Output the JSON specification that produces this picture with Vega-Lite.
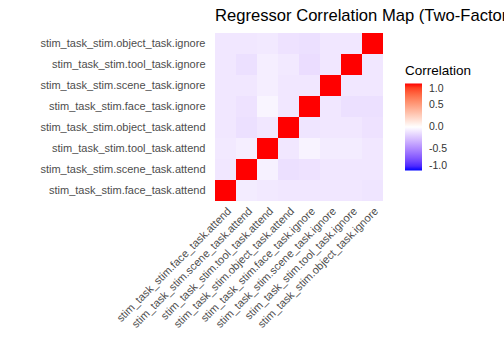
{
  "$schema": "https://vega.github.io/schema/vega-lite/v6.json",
  "autosize": {"type": "none"},
  "padding": {"left": 215, "top": 33, "right": 121, "bottom": 159},
  "width": 168,
  "height": 168,
  "background": "white",
  "title": {"text": "Regressor Correlation Map (Two-Factor Design)", "anchor": "start", "frame": "group", "font": "Liberation Sans", "fontSize": 16.6, "fontWeight": "normal", "color": "black", "offset": 8},
  "config": {"view": {"stroke": null}},
  "datasets": {
    "corr": [
      {"row": "stim_task_stim.object_task.ignore", "col": "stim_task_stim.face_task.attend", "r": -0.1},
      {"row": "stim_task_stim.object_task.ignore", "col": "stim_task_stim.scene_task.attend", "r": -0.1},
      {"row": "stim_task_stim.object_task.ignore", "col": "stim_task_stim.tool_task.attend", "r": -0.09},
      {"row": "stim_task_stim.object_task.ignore", "col": "stim_task_stim.object_task.attend", "r": -0.12},
      {"row": "stim_task_stim.object_task.ignore", "col": "stim_task_stim.face_task.ignore", "r": -0.13},
      {"row": "stim_task_stim.object_task.ignore", "col": "stim_task_stim.scene_task.ignore", "r": -0.1},
      {"row": "stim_task_stim.object_task.ignore", "col": "stim_task_stim.tool_task.ignore", "r": -0.1},
      {"row": "stim_task_stim.object_task.ignore", "col": "stim_task_stim.object_task.ignore", "r": 1},
      {"row": "stim_task_stim.tool_task.ignore", "col": "stim_task_stim.face_task.attend", "r": -0.1},
      {"row": "stim_task_stim.tool_task.ignore", "col": "stim_task_stim.scene_task.attend", "r": -0.13},
      {"row": "stim_task_stim.tool_task.ignore", "col": "stim_task_stim.tool_task.attend", "r": -0.07},
      {"row": "stim_task_stim.tool_task.ignore", "col": "stim_task_stim.object_task.attend", "r": -0.09},
      {"row": "stim_task_stim.tool_task.ignore", "col": "stim_task_stim.face_task.ignore", "r": -0.14},
      {"row": "stim_task_stim.tool_task.ignore", "col": "stim_task_stim.scene_task.ignore", "r": -0.1},
      {"row": "stim_task_stim.tool_task.ignore", "col": "stim_task_stim.tool_task.ignore", "r": 1},
      {"row": "stim_task_stim.tool_task.ignore", "col": "stim_task_stim.object_task.ignore", "r": -0.1},
      {"row": "stim_task_stim.scene_task.ignore", "col": "stim_task_stim.face_task.attend", "r": -0.1},
      {"row": "stim_task_stim.scene_task.ignore", "col": "stim_task_stim.scene_task.attend", "r": -0.1},
      {"row": "stim_task_stim.scene_task.ignore", "col": "stim_task_stim.tool_task.attend", "r": -0.07},
      {"row": "stim_task_stim.scene_task.ignore", "col": "stim_task_stim.object_task.attend", "r": -0.1},
      {"row": "stim_task_stim.scene_task.ignore", "col": "stim_task_stim.face_task.ignore", "r": -0.1},
      {"row": "stim_task_stim.scene_task.ignore", "col": "stim_task_stim.scene_task.ignore", "r": 1},
      {"row": "stim_task_stim.scene_task.ignore", "col": "stim_task_stim.tool_task.ignore", "r": -0.1},
      {"row": "stim_task_stim.scene_task.ignore", "col": "stim_task_stim.object_task.ignore", "r": -0.1},
      {"row": "stim_task_stim.face_task.ignore", "col": "stim_task_stim.face_task.attend", "r": -0.1},
      {"row": "stim_task_stim.face_task.ignore", "col": "stim_task_stim.scene_task.attend", "r": -0.12},
      {"row": "stim_task_stim.face_task.ignore", "col": "stim_task_stim.tool_task.attend", "r": -0.04},
      {"row": "stim_task_stim.face_task.ignore", "col": "stim_task_stim.object_task.attend", "r": -0.1},
      {"row": "stim_task_stim.face_task.ignore", "col": "stim_task_stim.face_task.ignore", "r": 1},
      {"row": "stim_task_stim.face_task.ignore", "col": "stim_task_stim.scene_task.ignore", "r": -0.1},
      {"row": "stim_task_stim.face_task.ignore", "col": "stim_task_stim.tool_task.ignore", "r": -0.13},
      {"row": "stim_task_stim.face_task.ignore", "col": "stim_task_stim.object_task.ignore", "r": -0.13},
      {"row": "stim_task_stim.object_task.attend", "col": "stim_task_stim.face_task.attend", "r": -0.1},
      {"row": "stim_task_stim.object_task.attend", "col": "stim_task_stim.scene_task.attend", "r": -0.13},
      {"row": "stim_task_stim.object_task.attend", "col": "stim_task_stim.tool_task.attend", "r": -0.1},
      {"row": "stim_task_stim.object_task.attend", "col": "stim_task_stim.object_task.attend", "r": 1},
      {"row": "stim_task_stim.object_task.attend", "col": "stim_task_stim.face_task.ignore", "r": -0.11},
      {"row": "stim_task_stim.object_task.attend", "col": "stim_task_stim.scene_task.ignore", "r": -0.1},
      {"row": "stim_task_stim.object_task.attend", "col": "stim_task_stim.tool_task.ignore", "r": -0.1},
      {"row": "stim_task_stim.object_task.attend", "col": "stim_task_stim.object_task.ignore", "r": -0.12},
      {"row": "stim_task_stim.tool_task.attend", "col": "stim_task_stim.face_task.attend", "r": -0.09},
      {"row": "stim_task_stim.tool_task.attend", "col": "stim_task_stim.scene_task.attend", "r": -0.07},
      {"row": "stim_task_stim.tool_task.attend", "col": "stim_task_stim.tool_task.attend", "r": 1},
      {"row": "stim_task_stim.tool_task.attend", "col": "stim_task_stim.object_task.attend", "r": -0.1},
      {"row": "stim_task_stim.tool_task.attend", "col": "stim_task_stim.face_task.ignore", "r": -0.05},
      {"row": "stim_task_stim.tool_task.attend", "col": "stim_task_stim.scene_task.ignore", "r": -0.08},
      {"row": "stim_task_stim.tool_task.attend", "col": "stim_task_stim.tool_task.ignore", "r": -0.08},
      {"row": "stim_task_stim.tool_task.attend", "col": "stim_task_stim.object_task.ignore", "r": -0.1},
      {"row": "stim_task_stim.scene_task.attend", "col": "stim_task_stim.face_task.attend", "r": -0.1},
      {"row": "stim_task_stim.scene_task.attend", "col": "stim_task_stim.scene_task.attend", "r": 1},
      {"row": "stim_task_stim.scene_task.attend", "col": "stim_task_stim.tool_task.attend", "r": -0.06},
      {"row": "stim_task_stim.scene_task.attend", "col": "stim_task_stim.object_task.attend", "r": -0.13},
      {"row": "stim_task_stim.scene_task.attend", "col": "stim_task_stim.face_task.ignore", "r": -0.12},
      {"row": "stim_task_stim.scene_task.attend", "col": "stim_task_stim.scene_task.ignore", "r": -0.1},
      {"row": "stim_task_stim.scene_task.attend", "col": "stim_task_stim.tool_task.ignore", "r": -0.1},
      {"row": "stim_task_stim.scene_task.attend", "col": "stim_task_stim.object_task.ignore", "r": -0.1},
      {"row": "stim_task_stim.face_task.attend", "col": "stim_task_stim.face_task.attend", "r": 1},
      {"row": "stim_task_stim.face_task.attend", "col": "stim_task_stim.scene_task.attend", "r": -0.08},
      {"row": "stim_task_stim.face_task.attend", "col": "stim_task_stim.tool_task.attend", "r": -0.09},
      {"row": "stim_task_stim.face_task.attend", "col": "stim_task_stim.object_task.attend", "r": -0.1},
      {"row": "stim_task_stim.face_task.attend", "col": "stim_task_stim.face_task.ignore", "r": -0.1},
      {"row": "stim_task_stim.face_task.attend", "col": "stim_task_stim.scene_task.ignore", "r": -0.1},
      {"row": "stim_task_stim.face_task.attend", "col": "stim_task_stim.tool_task.ignore", "r": -0.1},
      {"row": "stim_task_stim.face_task.attend", "col": "stim_task_stim.object_task.ignore", "r": -0.11}
    ]
  },
  "data": {"name": "corr"},
  "mark": {"type": "rect"},
  "encoding": {
    "x": {
      "field": "col", "type": "nominal",
      "sort": ["stim_task_stim.face_task.attend", "stim_task_stim.scene_task.attend", "stim_task_stim.tool_task.attend", "stim_task_stim.object_task.attend", "stim_task_stim.face_task.ignore", "stim_task_stim.scene_task.ignore", "stim_task_stim.tool_task.ignore", "stim_task_stim.object_task.ignore"],
      "scale": {"paddingInner": 0, "paddingOuter": 0},
      "axis": {"title": null, "labelAngle": -45, "labelAlign": "right", "labelBaseline": "top", "ticks": false, "domain": false, "grid": false, "labelPadding": 4, "labelFont": "Liberation Sans", "labelFontSize": 11, "labelColor": "#4d4d4d", "labelLimit": 300}
    },
    "y": {
      "field": "row", "type": "nominal",
      "sort": ["stim_task_stim.object_task.ignore", "stim_task_stim.tool_task.ignore", "stim_task_stim.scene_task.ignore", "stim_task_stim.face_task.ignore", "stim_task_stim.object_task.attend", "stim_task_stim.tool_task.attend", "stim_task_stim.scene_task.attend", "stim_task_stim.face_task.attend"],
      "scale": {"paddingInner": 0, "paddingOuter": 0},
      "axis": {"title": null, "ticks": false, "domain": false, "grid": false, "labelPadding": 10, "labelFont": "Liberation Sans", "labelFontSize": 11, "labelColor": "#4d4d4d", "labelLimit": 300}
    },
    "color": {
      "field": "r", "type": "quantitative",
      "scale": {"domain": [-1, 0, 1], "range": ["#0000ff", "#ffffff", "#ff0000"], "interpolate": "lab"},
      "legend": {
        "title": "Correlation", "orient": "none", "legendX": 190, "legendY": 31, "direction": "vertical",
        "gradientLength": 87, "gradientThickness": 17, "values": [-1, -0.5, 0, 0.5, 1], "format": ".1f",
        "labelExpr": "replace(datum.label, '\u2212', '-')",
        "titleFont": "Liberation Sans", "titleFontSize": 13.5, "titleFontWeight": "normal", "titleColor": "black", "titlePadding": 6,
        "labelFont": "Liberation Sans", "labelFontSize": 10.5, "labelColor": "#333333", "labelOffset": 7
      }
    }
  }
}
